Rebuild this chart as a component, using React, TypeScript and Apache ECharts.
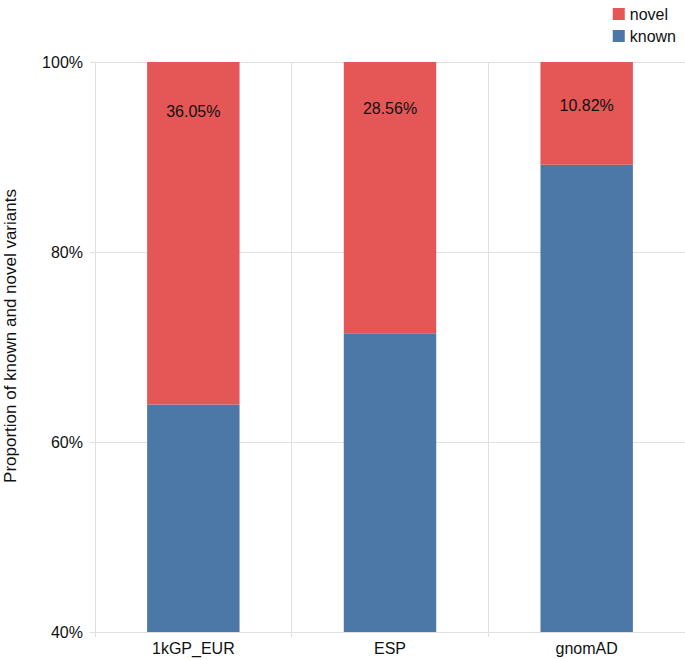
import React, { useEffect, useRef } from "react";
import * as echarts from "echarts";

const categories = ["1kGP_EUR", "ESP", "gnomAD"];
const novelValues = [36.05, 28.56, 10.82];
const knownValues = [63.95, 71.44, 89.18];
const yTicks = [40, 60, 80, 100];
const labelShiftY = [4, 1, -2];

const FONT = "Liberation Sans, Arial, sans-serif";
const RED = "#e45756";
const BLUE = "#4c78a8";
const GRIDC = "#e0e0e0";

export default function App() {
  const ref = useRef<HTMLDivElement>(null);
  useEffect(() => {
    document.body.style.margin = "0";
    const chart = echarts.init(ref.current!, null, { renderer: "svg" });
    chart.setOption({
      animation: false,
      backgroundColor: "#ffffff",
      textStyle: { fontFamily: FONT },
      legend: {
        orient: "vertical",
        right: 4,
        top: 1,
        itemWidth: 12,
        itemHeight: 12,
        itemGap: 6,
        icon: "rect",
        data: ["novel", "known"],
        textStyle: { fontSize: 16, color: "#111", fontFamily: FONT },
      },
      grid: { left: 95, right: 0, top: 62, bottom: 28 },
      xAxis: {
        type: "category",
        data: categories,
        axisLine: { show: true, lineStyle: { color: GRIDC } },
        axisTick: { show: true, length: 5, lineStyle: { color: GRIDC } },
        splitLine: { show: true, lineStyle: { color: GRIDC } },
        axisLabel: { fontSize: 16, color: "#111", fontFamily: FONT, margin: 8 },
      },
      yAxis: {
        type: "value",
        min: yTicks[0],
        max: yTicks[yTicks.length - 1],
        interval: 20,
        axisLine: { show: true, lineStyle: { color: GRIDC } },
        axisTick: { show: true, length: 5, lineStyle: { color: GRIDC } },
        splitLine: { show: true, lineStyle: { color: GRIDC } },
        axisLabel: { fontSize: 16, color: "#111", fontFamily: FONT, formatter: "{value}%", margin: 12 },
      },
      graphic: [
        {
          type: "text",
          x: 10,
          y: 336,
          rotation: Math.PI / 2,
          style: {
            text: "Proportion of known and novel variants",
            fontSize: 17,
            fontFamily: FONT,
            fill: "#111",
            align: "center",
            verticalAlign: "middle",
          },
        },
      ],
      series: [
        {
          name: "known",
          type: "bar",
          stack: "total",
          barWidth: "47%",
          data: knownValues,
          itemStyle: { color: BLUE },
        },
        {
          name: "novel",
          type: "bar",
          stack: "total",
          barWidth: "47%",
          data: novelValues.map((v, i) => ({
            value: v,
            label: { offset: [0, labelShiftY[i]] },
          })),
          itemStyle: { color: RED },
          label: {
            show: true,
            position: "insideTop",
            distance: 37,
            fontSize: 16,
            color: "#111",
            fontFamily: FONT,
            formatter: (p: any) => Number(p.value).toFixed(2) + "%",
          },
        },
      ],
    });
    return () => chart.dispose();
  }, []);
  return <div ref={ref} style={{ width: 685, height: 660 }} />;
}
